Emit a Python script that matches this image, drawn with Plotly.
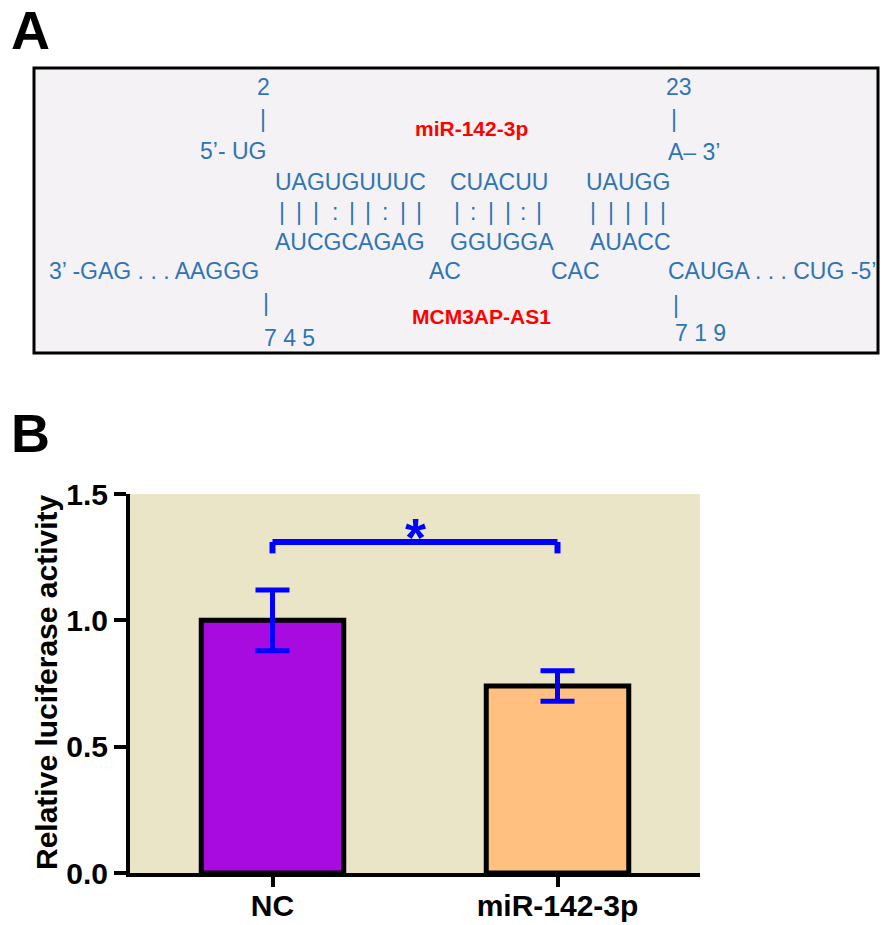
import plotly.graph_objects as go

# ---------------- data ----------------
categories = ["NC", "miR-142-3p"]
means = [1.00, 0.74]
errors = [0.12, 0.06]
bar_colors = ["#A80BE0", "#FFC080"]
y_tick_vals = [0.0, 0.5, 1.0, 1.5]
y_tick_text = ["0.0", "0.5", "1.0", "1.5"]
y_title = "Relative luciferase activity"
sig_label = "*"
sig_pair = [0, 1]

mirna_name = "miR-142-3p"
target_name = "MCM3AP-AS1"
mirna_positions = ["2", "23"]
target_positions = ["7 4 5", "7 1 9"]
mirna_ends = ["5’- UG", "A– 3’"]
mirna_paired = ["UAGUGUUUC", "CUACUU", "UAUGG"]
pair_marks = ["|||:||:||", "|:||:|", "|||||"]
target_paired = ["AUCGCAGAG", "GGUGGA", "AUACC"]
target_loops = ["3’ -GAG . . . AAGGG", "AC", "CAC", "CAUGA . . . CUG -5’"]
panel_labels = ["A", "B"]

# ---------------- layout helpers (reference pixel -> paper) ----------------
OFF = 8                      # default body margin of the html page
FW, FH = 896 - OFF, 925 - OFF
PL, PT, PR, PB = 130, 494, 700, 873   # plot area in reference pixels
def X(p):
    return (p - PL) / (PR - PL)
def Y(p):
    return (PB - p) / (PB - PT)

FONT = "Liberation Sans, Arial, Helvetica, sans-serif"
BLUE_TXT = "#2F74B5"
RED_TXT = "#FF0000"
SEQ = 23

annotations = []
def txt(text, x, y, size=SEQ, color=BLUE_TXT, bold=False, xanchor="center", angle=0):
    annotations.append(dict(
        text=text, x=X(x), y=Y(y), xref="paper", yref="paper",
        xanchor=xanchor, yanchor="middle", showarrow=False, textangle=angle,
        font=dict(family=FONT, size=size, color=color, weight="bold" if bold else "normal")))

fig = go.Figure()
fig.add_trace(go.Bar(
    x=categories, y=means, width=0.5,
    marker=dict(color=bar_colors, line=dict(color="black", width=5)),
    error_y=dict(type="data", array=errors, visible=True, color="#0000FF",
                 thickness=5, width=17),
    showlegend=False))

shapes = []
# panel A box
shapes.append(dict(type="rect", xref="paper", yref="paper",
                   x0=X(34), x1=X(878), y0=Y(68), y1=Y(353),
                   fillcolor="#F5F2F5", line=dict(color="black", width=3), layer="below"))
# significance bracket
br_top, br_low = 1.31, 1.265
shapes.append(dict(type="line", xref="x", yref="y", x0=sig_pair[0], x1=sig_pair[1],
                   y0=br_top, y1=br_top, line=dict(color="#0000FF", width=6)))
for s in sig_pair:
    shapes.append(dict(type="line", xref="x", yref="y", x0=s, x1=s,
                       y0=br_low, y1=br_top, line=dict(color="#0000FF", width=6)))

annotations.append(dict(text=sig_label, x=(sig_pair[0] + sig_pair[1]) / 2, y=Y(537),
                        xref="x", yref="paper", showarrow=False, xanchor="center",
                        yanchor="middle",
                        font=dict(family=FONT, size=54, color="#0000FF", weight="bold")))

# y-axis title
txt(y_title, 46, 682, size=30, color="black", bold=True, angle=-90)

# panel letters
txt(panel_labels[0], 9, 30, size=54, color="black", bold=True, xanchor="left")
txt(panel_labels[1], 9, 433, size=54, color="black", bold=True, xanchor="left")

# ---------------- panel A: duplex ----------------
txt(mirna_positions[0], 263, 87)
txt(mirna_positions[1], 679, 87)
txt("|", 263, 119)
txt("|", 674, 119)
txt(mirna_ends[0], 233, 151)
txt(mirna_ends[1], 666, 152, xanchor="left")
txt(mirna_name, 471, 128, size=21, color=RED_TXT, bold=True)

top_x = [273, 448, 584]
bot_x = [273, 448, 588]
for s, x in zip(mirna_paired, top_x):
    txt(s, x, 182, xanchor="left")
for s, x in zip(target_paired, bot_x):
    txt(s, x, 242, xanchor="left")

mark_x = [[282, 299, 316, 335, 352, 368, 385, 403, 419],
          [457, 473, 491, 508, 523, 539],
          [593, 611, 628, 646, 663]]
for marks, xs in zip(pair_marks, mark_x):
    for m, x in zip(marks, xs):
        txt(m, x, 212)

loop_x = [47, 427, 549, 666]
for s, x in zip(target_loops, loop_x):
    txt(s, x, 271, xanchor="left")

txt("|", 266, 303)
txt("|", 676, 305)
txt(target_name, 481, 316, size=21, color=RED_TXT, bold=True)
txt(target_positions[0], 262, 338, xanchor="left")
txt(target_positions[1], 673, 333, xanchor="left")

fig.update_layout(
    width=FW, height=FH,
    margin=dict(l=PL - OFF, r=FW - (PR - OFF), t=PT - OFF, b=FH - (PB - OFF), autoexpand=False),
    paper_bgcolor="white", plot_bgcolor="#EBE5C8",
    font=dict(family=FONT, color="black"),
    shapes=shapes, annotations=annotations,
)
fig.update_xaxes(
    type="category", range=[-0.5, 1.5], automargin=False,
    showline=True, linecolor="black", linewidth=4,
    ticks="outside", ticklen=10, tickwidth=4, tickcolor="black", ticklabelstandoff=-7,
    tickfont=dict(family=FONT, size=30, color="black", weight="bold"),
    showgrid=False, zeroline=False, fixedrange=True)
fig.update_yaxes(
    range=[0, 1.5], tickvals=y_tick_vals, ticktext=y_tick_text, automargin=False,
    showline=True, linecolor="black", linewidth=4,
    ticks="outside", ticklen=12, tickwidth=4, tickcolor="black",
    tickfont=dict(family=FONT, size=30, color="black", weight="bold"),
    showgrid=False, zeroline=False, fixedrange=True)

fig.write_html("out.html")
